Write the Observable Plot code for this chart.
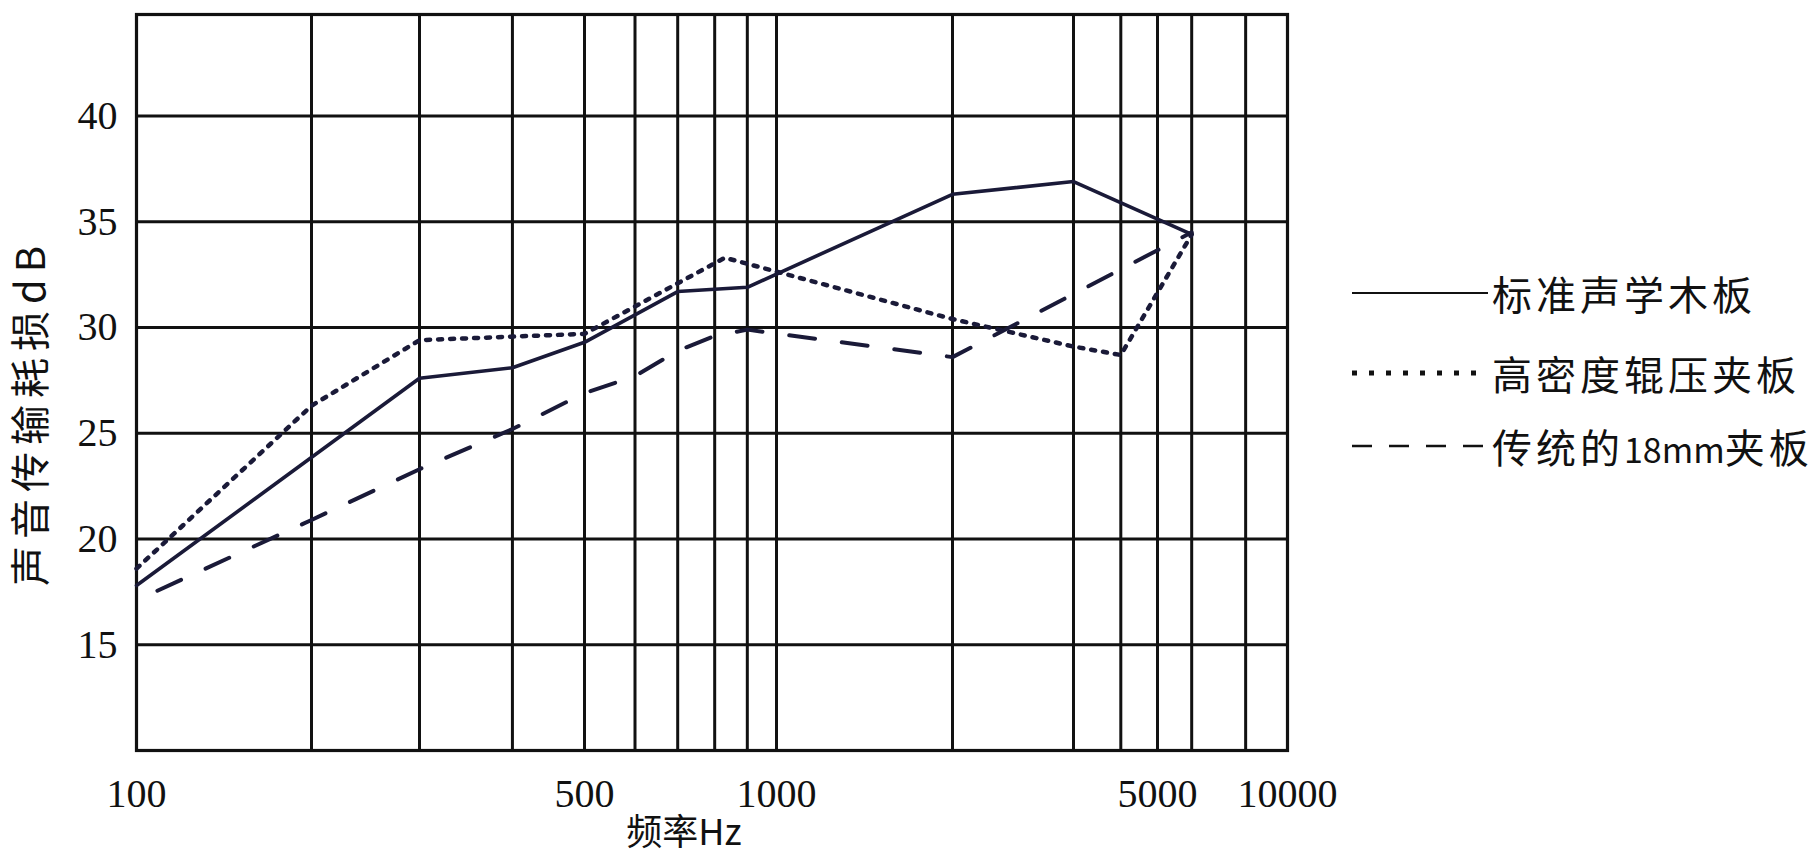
<!DOCTYPE html>
<html>
<head>
<meta charset="utf-8">
<script src="https://cdn.jsdelivr.net/npm/d3@7"></script>
<script src="https://cdn.jsdelivr.net/npm/@observablehq/plot@0.6"></script>
<style>
  body { margin: 0; background: #fff; }
  #wrap { position: relative; width: 1816px; height: 861px; overflow: hidden; }
  #legend { position: absolute; left: 1352px; top: 0; font-family: "Noto Sans CJK SC", sans-serif; font-size: 40px; color: #111; }
  .row { position: absolute; left: 0; height: 50px; display: flex; align-items: center; white-space: nowrap; letter-spacing: 4px; }
  .row svg { margin-right: 4px; }
  .row .lat { font-size: 34px; letter-spacing: 0px; }
</style>
</head>
<body>
<div id="wrap"><div id="chart"></div><div id="legend"></div></div>
<script>
// Frequency grid and labels (Hz)
const freqGrid = [200, 300, 400, 500, 600, 700, 800, 900, 1000, 2000, 3000, 4000, 5000, 6000, 8000];
const freqLabels = [100, 500, 1000, 5000, 10000];
const dbTicks = [15, 20, 25, 30, 35, 40];
const seriesNames = ["标准声学木板", "高密度辊压夹板", "传统的18mm夹板"];

// 标准声学木板 (solid)
const stdFreq = [100, 300, 400, 500, 700, 900, 2000, 3000, 6000];
const stdDb   = [17.8, 27.6, 28.1, 29.3, 31.7, 31.9, 36.3, 36.9, 34.4];
// 高密度辊压夹板 (dotted)
const hdFreq = [100, 200, 300, 500, 830, 2000, 3000, 4000, 6000];
const hdDb   = [18.6, 26.3, 29.4, 29.7, 33.3, 30.4, 29.1, 28.7, 34.4];
// 传统的18mm夹板 (dashed)
const tradFreq = [100, 200, 300, 400, 500, 600, 700, 800, 900, 2000, 6000];
const tradDb   = [17.1, 20.9, 23.3, 25.2, 26.9, 27.7, 28.9, 29.6, 29.9, 28.6, 34.5];

const toRows = (fs, vs) => fs.map((f, i) => ({f, v: vs[i]}));
const ink = "#111";
const lineInk = "#1a1a38";

// The original's hand-drawn frequency grid is not evenly logarithmic:
// a piecewise log scale follows its spacing between these breakpoints.
const xScaleDomain = [100, 200, 300, 500, 1000, 2000, 3000, 5000, 10000];
const xScaleRange  = [136, 311, 419, 584, 776, 952, 1073, 1157, 1287];

const chart = Plot.plot({
  width: 1816,
  height: 861,
  marginLeft: 136,
  marginRight: 529,
  marginTop: 14,
  marginBottom: 111,
  style: {background: "transparent", color: ink, overflow: "visible"},
  x: {type: "log", domain: xScaleDomain, range: xScaleRange},
  y: {domain: [10, 44.8]},
  marks: [
    Plot.ruleX(freqGrid, {stroke: ink, strokeWidth: 3}),
    Plot.ruleY(dbTicks, {stroke: ink, strokeWidth: 2.8}),
    Plot.frame({stroke: ink, strokeWidth: 3.2}),
    Plot.line(toRows(stdFreq, stdDb), {x: "f", y: "v", stroke: lineInk, strokeWidth: 3.6}),
    Plot.line(toRows(hdFreq, hdDb), {x: "f", y: "v", stroke: lineInk, strokeWidth: 4.5, strokeDasharray: "4,8"}),
    Plot.line(toRows(tradFreq, tradDb), {x: "f", y: "v", stroke: lineInk, strokeWidth: 4, strokeDasharray: "26,27", strokeDashoffset: 30}),
    Plot.axisX({ticks: freqLabels, tickSize: 0, tickPadding: 28, tickFormat: d => String(d), label: null,
      fontSize: 40, fontFamily: "Liberation Serif", fill: ink}),
    Plot.axisY({ticks: dbTicks, tickSize: 0, tickPadding: 19, tickFormat: d => String(d), label: null,
      fontSize: 40, fontFamily: "Liberation Serif", fill: ink}),
    Plot.text(["声音传输耗损dB"], {text: d => d, frameAnchor: "left", textAnchor: "middle", lineAnchor: "middle",
      rotate: -90, dx: -104, dy: 30, fontSize: 40, fontFamily: "Noto Sans CJK SC", fill: ink}),
    Plot.text(["频率Hz"], {text: d => d, frameAnchor: "bottom", textAnchor: "middle", lineAnchor: "middle", dx: -28, dy: 83,
      fontSize: 36, fontFamily: "Noto Sans CJK SC", fill: ink})
  ]
});
chart.querySelectorAll("text").forEach(t => { if (t.textContent === "声音传输耗损dB") t.style.letterSpacing = "7px"; });
document.getElementById("chart").appendChild(chart);

// Legend (to the right of the plot)
const legendStyles = [
  {dash: null, width: 2.2},
  {dash: "5,12", width: 5},
  {dash: "20,17", width: 2.5}
];
const legendTops = [268, 348, 421];
const legend = document.getElementById("legend");
seriesNames.forEach((name, i) => {
  const row = document.createElement("div");
  row.className = "row";
  row.style.top = legendTops[i] + "px";
  const st = legendStyles[i];
  const label = name.replace(/([0-9A-Za-z]+)/g, '<span class="lat">$1</span>');
  row.innerHTML = `<svg width="136" height="12"><line x1="0" x2="136" y1="6" y2="6" stroke="${ink}" stroke-width="${st.width}" ${st.dash ? `stroke-dasharray="${st.dash}"` : ""}/></svg><span>${label}</span>`;
  legend.appendChild(row);
});
</script>
</body>
</html>
